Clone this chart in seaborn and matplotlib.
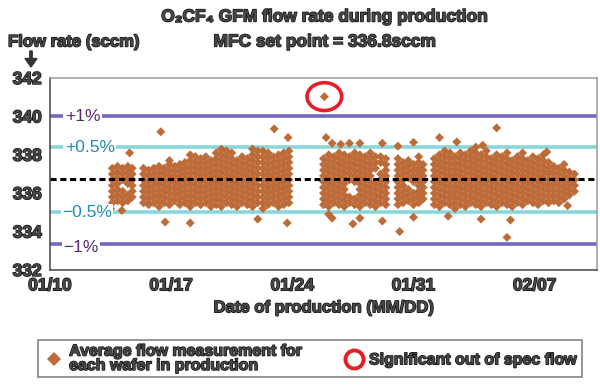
import matplotlib
matplotlib.use("Agg")
import matplotlib.pyplot as plt
from matplotlib import patheffects
from matplotlib.lines import Line2D
from matplotlib.patches import Ellipse, FancyArrow
import pandas as pd
import seaborn as sns

# days after 01/10 and flow (sccm) for every wafer, grouped by time slot
column_days = [3.6, 3.9, 4.2, 4.5, 4.75,
               5.4, 5.7, 6.0, 6.3, 6.6, 6.9, 7.2, 7.5, 7.8, 8.1, 8.4, 8.7, 9.0, 9.3,
               9.6, 9.9, 10.2, 10.5, 10.8, 11.1, 11.4, 11.7, 12.0, 12.3, 12.6, 12.9,
               13.2, 13.5, 13.8,
               15.8, 16.1, 16.4, 16.7, 17.0, 17.3, 17.6, 17.9, 18.2, 18.5, 18.8, 19.1, 19.4,
               20.1, 20.4, 20.7, 21.0, 21.3, 21.55,
               22.2, 22.5, 22.8, 23.1, 23.4, 23.7, 24.0, 24.3, 24.6, 24.9, 25.2, 25.5,
               25.8, 26.1, 26.4, 26.7, 27.0, 27.3, 27.6, 27.9, 28.2, 28.5, 28.8, 29.1,
               29.4, 29.7, 30.0, 30.3]
column_flows = [
    [335.5, 335.8, 336.1, 336.4, 336.7, 337.0, 337.3],
    [335.6, 335.9, 336.2, 336.5, 336.8, 337.1, 337.4],
    [335.5, 335.8, 336.1, 336.7, 337.0, 337.3],
    [335.6, 335.9, 336.5, 336.8, 337.1, 337.4],
    [335.8, 336.1, 336.4, 336.7, 337.0, 337.3],
    [335.5, 335.8, 336.1, 336.4, 336.7, 337.0, 337.3],
    [335.4, 335.7, 336.0, 336.3, 336.6, 336.9, 337.2],
    [335.5, 335.8, 336.1, 336.4, 336.7, 337.0, 337.3],
    [335.3, 335.6, 335.9, 336.2, 336.5, 336.8, 337.1, 337.4],
    [335.5, 335.8, 336.1, 336.4, 336.7, 337.0, 337.3],
    [335.4, 335.7, 336.0, 336.3, 336.6, 336.9, 337.2, 337.5, 337.7],
    [335.6, 335.9, 336.2, 336.5, 336.8, 337.1, 337.4],
    [335.4, 335.7, 336.0, 336.3, 336.6, 336.9, 337.2, 337.5],
    [335.5, 335.8, 336.1, 336.4, 336.7, 337.0, 337.3, 337.6],
    [335.3, 335.6, 335.9, 336.2, 336.5, 336.8, 337.1, 337.4, 337.7, 338.0],
    [335.5, 335.8, 336.1, 336.4, 336.7, 337.0, 337.3, 337.6, 337.9],
    [335.4, 335.7, 336.0, 336.3, 336.6, 336.9, 337.2, 337.5, 337.8],
    [335.5, 335.8, 336.1, 336.4, 336.7, 337.0, 337.3, 337.6, 337.9],
    [335.3, 335.6, 335.9, 336.2, 336.5, 336.8, 337.1, 337.4, 337.7],
    [335.4, 335.7, 336.0, 336.3, 336.6, 336.9, 337.2, 337.5, 337.8, 338.1],
    [335.3, 335.6, 335.9, 336.2, 336.5, 336.8, 337.1, 337.4, 337.7, 338.0, 338.3],
    [335.5, 335.8, 336.1, 336.4, 336.7, 337.0, 337.3, 337.6, 337.9, 338.2],
    [335.4, 335.7, 336.0, 336.3, 336.6, 336.9, 337.2, 337.5, 337.8, 338.1],
    [335.3, 335.6, 335.9, 336.2, 336.5, 336.8, 337.1, 337.4, 337.7],
    [335.5, 335.8, 336.1, 336.4, 336.7, 337.0, 337.3, 337.6, 337.9],
    [335.4, 335.7, 336.0, 336.3, 336.6, 336.9, 337.2, 337.5, 337.8],
    [335.3, 335.6, 335.9, 336.2, 336.5, 336.8, 337.1, 337.4, 337.7, 338.0, 338.3],
    [335.5, 335.8, 336.1, 336.4, 336.7, 337.0, 337.3, 337.6, 337.9, 338.2],
    [335.2, 335.5, 335.8, 336.1, 336.4, 336.7, 337.0, 337.3, 337.6, 337.9, 338.2],
    [335.4, 335.7, 336.0, 336.3, 336.6, 336.9, 337.2, 337.5, 337.8, 338.1],
    [335.5, 335.8, 336.1, 336.4, 336.7, 337.0, 337.3, 337.6, 337.9],
    [335.3, 335.6, 335.9, 336.2, 336.5, 336.8, 337.1, 337.4, 337.7, 338.0],
    [335.4, 335.7, 336.0, 336.3, 336.6, 336.9, 337.2, 337.5, 337.8, 338.1],
    [335.5, 335.8, 336.1, 336.4, 336.7, 337.0, 337.3, 337.6, 337.9, 338.2],
    [335.4, 335.7, 336.0, 336.3, 336.6, 336.9, 337.2, 337.5, 337.8],
    [335.3, 335.6, 335.9, 336.2, 336.5, 336.8, 337.1, 337.4, 337.7, 338.0],
    [335.5, 335.8, 336.1, 336.4, 336.7, 337.0, 337.3, 337.6, 337.9],
    [335.4, 335.7, 336.0, 336.3, 336.6, 336.9, 337.2, 337.5, 337.8, 338.1],
    [335.3, 335.6, 335.9, 336.2, 336.5, 336.8, 337.1, 337.4, 337.7, 338.0],
    [335.5, 335.8, 336.7, 337.0, 337.3, 337.6, 337.9],
    [335.4, 335.7, 336.6, 336.9, 337.2, 337.5, 337.8, 338.1],
    [335.3, 335.6, 335.9, 336.2, 336.5, 336.8, 337.1, 337.4, 337.7, 338.0],
    [335.5, 335.8, 336.1, 336.4, 336.7, 337.0, 337.3, 337.6, 337.9],
    [335.4, 335.7, 336.0, 336.3, 336.6, 336.9, 337.2, 337.5, 337.8, 338.1],
    [335.3, 335.6, 335.9, 336.2, 336.5, 337.3, 337.6, 337.9],
    [335.5, 335.8, 336.1, 336.4, 336.7, 337.0, 337.6, 337.9],
    [335.4, 335.7, 336.0, 336.3, 336.6, 336.9, 337.2, 337.5, 337.8],
    [335.4, 335.7, 336.0, 336.3, 336.6, 336.9, 337.2, 337.5, 337.8],
    [335.5, 335.8, 336.1, 336.4, 336.7, 337.0, 337.3, 337.6],
    [335.6, 335.9, 336.2, 336.8, 337.1, 337.4, 337.7],
    [335.4, 335.7, 336.0, 336.6, 336.9, 337.2, 337.5],
    [335.5, 335.8, 336.1, 336.4, 336.7, 337.0, 337.3, 337.6, 337.9],
    [335.7, 336.0, 336.3, 336.6, 336.9, 337.2, 337.5],
    [335.4, 335.7, 336.0, 336.3, 336.6, 336.9, 337.2, 337.5, 337.8],
    [335.3, 335.6, 335.9, 336.2, 336.5, 336.8, 337.1, 337.4, 337.7, 338.0],
    [335.5, 335.8, 336.1, 336.4, 336.7, 337.0, 337.3, 337.6, 337.9, 338.2],
    [335.4, 335.7, 336.0, 336.3, 336.6, 336.9, 337.2, 337.5, 337.8, 338.1],
    [335.2, 335.5, 335.8, 336.1, 336.4, 336.7, 337.0, 337.3, 337.6, 337.9],
    [335.4, 335.7, 336.0, 336.3, 336.6, 336.9, 337.2, 337.5, 337.8, 338.1],
    [335.3, 335.6, 335.9, 336.2, 336.5, 336.8, 337.1, 337.4, 337.7, 338.0],
    [335.5, 335.8, 336.1, 336.4, 336.7, 337.0, 337.3, 337.6, 337.9, 338.2],
    [335.4, 335.7, 336.0, 336.3, 336.6, 336.9, 337.2, 337.5, 337.8, 338.1],
    [335.3, 335.6, 335.9, 336.2, 336.5, 336.8, 337.1, 337.4, 337.7, 338.0],
    [335.5, 335.8, 336.1, 336.4, 336.7, 337.0, 337.3, 337.6, 337.9, 338.2],
    [335.4, 335.7, 336.0, 336.3, 336.6, 336.9, 337.2, 337.5, 337.8],
    [335.3, 335.6, 335.9, 336.2, 336.5, 336.8, 337.1, 337.4, 337.7, 338.0],
    [335.5, 335.8, 336.1, 336.4, 336.7, 337.0, 337.3, 337.6, 337.9],
    [335.4, 335.7, 336.0, 336.3, 336.6, 336.9, 337.2, 337.5, 337.8, 338.1],
    [335.3, 335.6, 335.9, 336.2, 336.5, 336.8, 337.1, 337.4, 337.7],
    [335.5, 335.8, 336.1, 336.4, 336.7, 337.0, 337.3, 337.6, 337.9],
    [335.4, 335.7, 336.0, 336.3, 336.6, 336.9, 337.2, 337.5, 337.8, 338.1],
    [335.6, 335.9, 336.2, 336.5, 336.8, 337.1, 337.4, 337.7],
    [335.5, 335.8, 336.1, 336.4, 336.7, 337.0, 337.3, 337.6, 337.9],
    [335.4, 335.7, 336.0, 336.3, 336.6, 336.9, 337.2, 337.5, 337.8],
    [335.6, 335.9, 336.2, 336.5, 336.8, 337.1, 337.4, 337.7, 338.0],
    [335.5, 335.8, 336.1, 336.4, 336.7, 337.0, 337.3, 337.6],
    [335.6, 335.9, 336.2, 336.5, 336.8, 337.1, 337.4],
    [335.5, 335.8, 336.1, 336.4, 336.7, 337.0, 337.3],
    [335.7, 336.0, 336.3, 336.6, 336.9, 337.2, 337.5],
    [335.9, 336.2, 336.5, 336.8, 337.1],
    [336.1, 336.4, 336.7, 337.0],
]

# isolated wafers outside the main cloud
outlier_days = [3.5, 4.15, 4.6, 6.4, 6.65, 8.1, 12.0, 12.95, 13.7, 13.75,
                15.95, 16.1, 16.3, 16.3, 16.8, 17.3, 17.5, 17.9, 17.9, 19.2, 19.2,
                20.1, 20.2, 21.0, 21.0, 22.5, 23.0, 23.5, 24.6, 24.9, 25.0,
                25.8, 26.4, 26.6, 28.7, 29.9]
outlier_flows = [335.2, 335.1, 338.1, 339.2, 334.5, 334.45, 334.65, 339.35, 334.45, 338.9,
                 338.9, 334.9, 338.6, 334.7, 338.55, 338.6, 334.4, 338.6, 334.7, 338.6, 334.55,
                 338.45, 334.0, 338.65, 334.75, 338.9, 334.8, 338.67, 338.4, 334.65, 338.5,
                 339.4, 333.7, 334.6, 338.15, 335.35]

spec_days = [15.85]
spec_flows = [341.03]

limit_values = [340.0, 338.4, 335.0, 333.35]
limit_labels = ["+1%", "+0.5%", "\u22120.5%", "\u22121%"]
set_point = 336.72

tick_days = [0, 7, 14, 21, 28]
tick_labels = ["01/10", "01/17", "01/24", "01/31", "02/07"]
y_ticks = [332, 334, 336, 338, 340, 342]

rows = []
for day, flows in zip(column_days, column_flows):
    for f in flows:
        rows.append((day, f))
rows += list(zip(outlier_days, outlier_flows))
rows += list(zip(spec_days, spec_flows))
df = pd.DataFrame(rows, columns=["day", "flow"])

sns.set_theme(style="white")
plt.rcParams["font.family"] = ["Liberation Sans", "DejaVu Sans"]

dark = "#484848"
outline = [patheffects.withStroke(linewidth=1.0, foreground="#111111")]
brown = "#bd6b38"
purple_line = "#7367bf"
purple_text = "#5a2b6c"
cyan_line = "#88d7da"
teal_text = "#1d8cb2"

fig = plt.figure(figsize=(6, 3.85), dpi=100)
ax = fig.add_axes([50 / 600, 115 / 385, 547 / 600, 192 / 385])

line_colors = [purple_line, cyan_line, cyan_line, purple_line]
text_colors = [purple_text, teal_text, teal_text, purple_text]
label_x = [0.85, 0.85, 0.7, 0.75]
label_offsets = [0.0, 0.0, 0.0, -0.2]
for val, lab, lc, tc, lx, off in zip(limit_values, limit_labels, line_colors, text_colors,
                                     label_x, label_offsets):
    ax.axhline(val, color=lc, lw=2.6, zorder=1)
    ax.text(lx, val + off, lab, color=tc, fontsize=12.5, va="center", ha="left", zorder=4,
            bbox=dict(facecolor="white", edgecolor="none", pad=1.0))

sns.scatterplot(data=df, x="day", y="flow", marker="D", s=21, color=brown,
                edgecolor="none", linewidth=0, ax=ax, zorder=2, legend=False)

ax.axhline(set_point, color="black", lw=2.2, dashes=(2, 1.2), zorder=3)

for d, f in zip(spec_days, spec_flows):
    ax.add_patch(Ellipse((d, f), width=2.0, height=1.45, fill=False,
                         edgecolor="#e61e2a", lw=2.6, zorder=5))

ax.set_xlim(0, 31.6)
ax.set_ylim(332, 342)
ax.set_xticks(tick_days)
ax.set_xticklabels(tick_labels)
ax.set_yticks(y_ticks)
ax.set_xlabel("Date of production (MM/DD)", fontsize=12, fontweight="bold",
              color=dark, labelpad=5, path_effects=outline)
ax.set_ylabel("")
ax.tick_params(axis="both", direction="in", length=7, width=1, color="#444",
               labelsize=12.5, labelcolor=dark, pad=6)
for lab in ax.get_xticklabels() + ax.get_yticklabels():
    lab.set_fontweight("bold")
    lab.set_path_effects(outline)

ax.spines["left"].set_color("#444")
ax.spines["bottom"].set_color("#444")
ax.spines["top"].set_color("#9a9a9a")
ax.spines["right"].set_color("#9a9a9a")
for s in ax.spines.values():
    s.set_linewidth(1.1)

fig.text(325 / 600, 1 - 17 / 385, "O\u2082CF\u2084 GFM flow rate during production", ha="center",
         va="center", fontsize=12.5, fontweight="bold", color=dark, path_effects=outline)
fig.text(325 / 600, 1 - 42 / 385, "MFC set point = 336.8sccm", ha="center",
         va="center", fontsize=12.5, fontweight="bold", color=dark, path_effects=outline)
fig.text(8 / 600, 1 - 42 / 385, "Flow rate (sccm)", ha="left", va="center",
         fontsize=12, fontweight="bold", color=dark, path_effects=outline)
fig.add_artist(FancyArrow(31 / 600, 1 - 51 / 385, 0, -16 / 385, width=0.004,
                          head_width=0.02, head_length=0.022,
                          length_includes_head=True, color="#333",
                          transform=fig.transFigure))

handles = [
    Line2D([], [], marker="D", ls="none", color=brown, markersize=7, markeredgewidth=0),
    Line2D([], [], marker="o", ls="none", markerfacecolor="white", markeredgecolor="#e61e2a",
           markersize=13, markeredgewidth=2.8),
]
leg = fig.legend(handles, ["Average flow measurement for\neach wafer in production",
                           "Significant out of spec flow"],
                 loc="lower left", bbox_to_anchor=(38 / 600, 8 / 385, 544 / 600, 40 / 385),
                 mode="expand", ncol=2, frameon=True, fancybox=False, fontsize=11.5,
                 handletextpad=0.2, handlelength=1.5, borderaxespad=0, borderpad=0.25,
                 labelspacing=0)
leg.get_frame().set_edgecolor("#666")
leg.get_frame().set_linewidth(1.2)
for t in leg.get_texts():
    t.set_fontweight("bold")
    t.set_color(dark)
    t.set_path_effects(outline)
    t.set_linespacing(0.95)

fig.savefig("out.png", dpi=100)
